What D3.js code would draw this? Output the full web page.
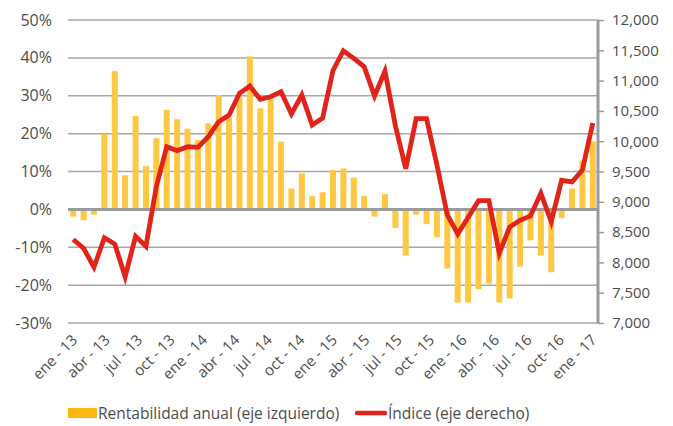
<!doctype html>
<html>
<head>
<meta charset="utf-8">
<script src="https://cdn.jsdelivr.net/npm/d3@7"></script>
<style>
	body { margin: 0; background: #fff; }
	text { font-family: "Open Sans", "Noto Sans", sans-serif; fill: #4d4d4d; }
</style>
</head>
<body>
<div id="container"></div>
<script>
	// rentabilidad anual, % (eje izquierdo)
	var rentabilidad = [-1.9, -2.9, -1.4, 19.9, 36.5, 9.0, 24.7, 11.4, 18.8, 26.3,
		23.8, 21.3, 18.3, 22.7, 30.2, 24.2, 29.6, 40.4, 26.7, 29.3,
		17.9, 5.5, 9.5, 3.5, 4.5, 10.4, 10.8, 8.4, 3.5, -1.9,
		4.0, -4.9, -12.2, -1.4, -3.9, -7.3, -15.6, -24.6, -24.6, -21.1,
		-19.6, -24.6, -23.5, -15.1, -8.2, -12.2, -16.6, -2.3, 5.5, 12.9, 17.9];
	// indice (eje derecho)
	var indice = [8378, 8233, 7921, 8406, 8304, 7764, 8431, 8266, 9249, 9909,
		9843, 9909, 9899, 10074, 10322, 10432, 10790, 10911, 10691, 10734,
		10817, 10449, 10762, 10267, 10383, 11167, 11493, 11368, 11229, 10746,
		11158, 10259, 9546, 10371, 10371, 9607, 8782, 8469, 8741, 9018,
		9018, 8150, 8584, 8695, 8766, 9140, 8672, 9355, 9327, 9525, 10300];
	var tickLabels = ["ene - 13", "abr - 13", "jul - 13", "oct - 13", "ene - 14", "abr - 14",
		"jul - 14", "oct - 14", "ene - 15", "abr - 15", "jul - 15", "oct - 15",
		"ene - 16", "abr - 16", "jul - 16", "oct- 16", "ene - 17"];
	var leftTicks = [-30, -20, -10, 0, 10, 20, 30, 40, 50];
	var rightTicks = [7000, 7500, 8000, 8500, 9000, 9500, 10000, 10500, 11000, 11500, 12000];

	var W = 673, H = 426;
	var pLeft = 68, pRight = 598, pTop = 20, pBottom = 323;

	var svg = d3.select("#container").append("svg")
		.attr("width", W).attr("height", H);

	var periods = d3.range(rentabilidad.length);
	var x = d3.scaleBand().domain(periods).range([pLeft, pRight])
		.paddingInner(0.42).paddingOuter(0.21);
	var xl = d3.scalePoint().domain(tickLabels).range([pLeft + 5.4, pRight - 5.4]);
	var yl = d3.scaleLinear().domain([-30, 50]).range([pBottom, pTop]);
	var yr = d3.scaleLinear().domain([7000, 12000]).range([pBottom, pTop]);

	// gridlines
	svg.append("g").selectAll("line")
		.data(leftTicks.filter(function(d){ return d != 0; }))
		.enter().append("line")
		.attr("x1", pLeft).attr("x2", pRight)
		.attr("y1", function(d){ return yl(d); })
		.attr("y2", function(d){ return yl(d); })
		.attr("stroke", "#a8a8a8").attr("stroke-width", 1.5);

	// bars
	svg.append("g").selectAll("rect")
		.data(rentabilidad)
		.enter().append("rect")
		.attr("x", function(d, i){ return x(i); })
		.attr("width", x.bandwidth())
		.attr("y", function(d){ return yl(Math.max(0, d)); })
		.attr("height", function(d){ return Math.abs(yl(d) - yl(0)); })
		.attr("fill", "#fec843");

	// zero line
	svg.append("line")
		.attr("x1", pLeft).attr("x2", pRight)
		.attr("y1", yl(0)).attr("y2", yl(0))
		.attr("stroke", "#9b9b9b").attr("stroke-width", 3);

	// left labels
	svg.append("g").selectAll("text")
		.data(leftTicks)
		.enter().append("text")
		.attr("x", 52)
		.attr("y", function(d){ return yl(d); })
		.attr("dy", "0.35em")
		.attr("text-anchor", "end")
		.style("font-size", "16px")
		.text(function(d){ return d + "%"; });

	// right axis
	var ax = svg.append("g").attr("transform", "translate(" + pRight + ",0)")
		.call(d3.axisRight(yr).tickValues(rightTicks).tickSize(6).tickPadding(8)
			.tickFormat(d3.format(",")));
	ax.select(".domain").attr("stroke", "#9b9b9b").attr("stroke-width", 3)
		.attr("d", "M0," + pTop + "V" + pBottom);
	ax.selectAll(".tick line").attr("stroke", "#9b9b9b").attr("stroke-width", 1.5);
	ax.selectAll(".tick text").style("font-size", "15px")
		.style("font-family", "'Open Sans', sans-serif").attr("fill", "#4d4d4d");

	// line
	var line = d3.line()
		.x(function(d, i){ return x(i) + x.bandwidth() / 2; })
		.y(function(d){ return yr(d); });
	svg.append("path")
		.datum(indice)
		.attr("d", line)
		.attr("fill", "none")
		.attr("stroke", "#e2231a")
		.attr("stroke-width", 4.8)
		.attr("stroke-linejoin", "miter");

	// x labels
	svg.append("g").selectAll("text")
		.data(tickLabels)
		.enter().append("text")
		.attr("text-anchor", "end")
		.attr("transform", function(d){
			return "translate(" + (xl(d) + 5) + ",341) rotate(-45)";
		})
		.style("font-size", "15px")
		.text(function(d){ return d; });

	// legend
	var lg = svg.append("g");
	lg.append("rect").attr("x", 68).attr("y", 408).attr("width", 29).attr("height", 10)
		.attr("fill", "#fdb913");
	lg.append("text").attr("x", 98).attr("y", 419).style("font-size", "15.5px")
		.text("Rentabilidad anual (eje izquierdo)");
	lg.append("line").attr("x1", 357).attr("x2", 385).attr("y1", 413).attr("y2", 413)
		.attr("stroke", "#e2231a").attr("stroke-width", 4.5).attr("stroke-linecap", "round");
	lg.append("text").attr("x", 388).attr("y", 419).style("font-size", "15.5px")
		.text("Índice (eje derecho)");
</script>
</body>
</html>
